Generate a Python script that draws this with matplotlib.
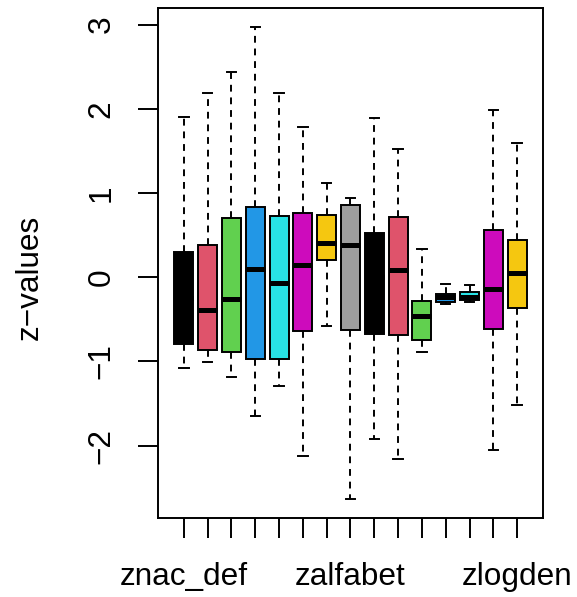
import matplotlib
matplotlib.use("Agg")
import matplotlib.pyplot as plt

plt.rcParams['font.family'] = ['Liberation Sans', 'DejaVu Sans']

labels = ["znac_def", "", "", "", "", "", "", "zalfabet", "", "", "", "", "", "", "zlogden"]
whislo = [-1.08, -1.01, -1.19, -1.65, -1.29, -2.13, -0.585, -2.64, -1.92, -2.16, -0.89, -0.32, -0.30, -2.05, -1.52]
q1     = [-0.79, -0.87, -0.89, -0.97, -0.97, -0.64, 0.20, -0.625, -0.68, -0.685, -0.75, -0.30, -0.27, -0.62, -0.37]
med    = [-0.25, -0.387, -0.257, 0.10, -0.07, 0.14, 0.405, 0.38, 0.00, 0.088, -0.467, -0.23, -0.23, -0.14, 0.05]
q3     = [0.30, 0.385, 0.70, 0.83, 0.73, 0.76, 0.74, 0.86, 0.52, 0.72, -0.28, -0.20, -0.18, 0.555, 0.44]
whishi = [1.90, 2.19, 2.44, 2.97, 2.19, 1.79, 1.12, 0.94, 1.89, 1.525, 0.337, -0.08, -0.087, 1.99, 1.59]
colors = ["#000000", "#DF536B", "#61D04F", "#2297E6", "#28E2E5", "#CD0BBC", "#F5C710", "#9E9E9E",
          "#000000", "#DF536B", "#61D04F", "#2297E6", "#28E2E5", "#CD0BBC", "#F5C710"]
yticks = [-2, -1, 0, 1, 2, 3]

fig = plt.figure(figsize=(5.77, 5.97), dpi=100)
ax = fig.add_axes([157.7/577, 1-518.3/597, (543.3-157.7)/577, (518.3-8.3)/597])

positions = list(range(1, len(labels)+1))
stats = []
for i in range(len(labels)):
    stats.append(dict(whislo=whislo[i], q1=q1[i], med=med[i], q3=q3[i], whishi=whishi[i], label=labels[i]))

bp = ax.bxp(stats, positions=positions, widths=0.8, patch_artist=True, showfliers=False,
            boxprops=dict(linewidth=1.4, edgecolor='black'),
            medianprops=dict(linewidth=3.6, color='black', solid_capstyle='butt'),
            whiskerprops=dict(linewidth=1.4, color='black', linestyle=(0, (3.5, 3))),
            capprops=dict(linewidth=1.4, color='black'))
for patch, c in zip(bp['boxes'], colors):
    patch.set_facecolor(c)

ax.set_xlim(-0.1, 16.1)
dmin, dmax = min(whislo), max(whishi)
r = dmax - dmin
ax.set_ylim(dmin - 0.04*r, dmax + 0.04*r)

ax.set_xticks(positions)
ax.set_xticklabels(labels)
ax.set_yticks(yticks)
ax.set_yticklabels([str(v).replace('-', '\u2212') for v in yticks])
ax.tick_params(axis='both', length=14.4, width=1.4, labelsize=22.7, direction='out')
ax.tick_params(axis='x', pad=17)
ax.tick_params(axis='y', pad=15)
for lab in ax.get_yticklabels():
    lab.set_rotation(90)
    lab.set_va('center')
for s in ax.spines.values():
    s.set_linewidth(1.4)

fig.text(30/577, 1-277/597, "z\u2212values", rotation=90, ha='center', va='center', fontsize=22.7)

fig.savefig("out.png", dpi=100)
